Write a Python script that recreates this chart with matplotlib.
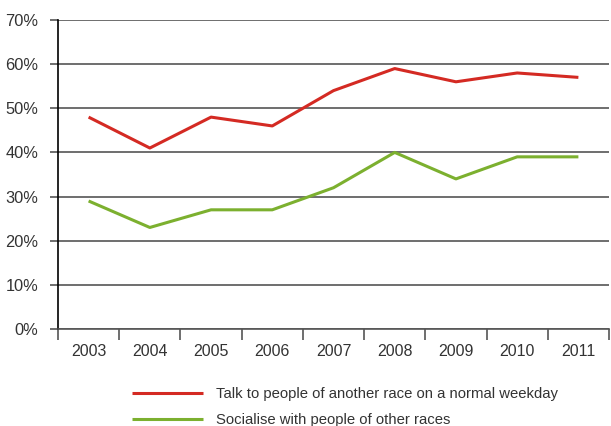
import numpy as np
import matplotlib.pyplot as plt

plt.rcParams['font.family'] = ['Liberation Sans', 'DejaVu Sans']

# Datos
years = ["2003", "2004", "2005", "2006", "2007", "2008", "2009", "2010", "2011"]
talk = [48, 41, 48, 46, 54, 59, 56, 58, 57]
socialise = [29, 23, 27, 27, 32, 40, 34, 39, 39]
label_talk = "Talk to people of another race on a normal weekday"
label_social = "Socialise with people of other races"

text_color = "#333333"
grid_color = "#555555"

fig = plt.figure(figsize=(6.11, 4.26), dpi=100)
ax = fig.add_axes([58 / 611, 1 - 329 / 426, 551 / 611, 309 / 426])

x = np.arange(len(years))
ax.plot(x, talk, color="#d42a23", lw=2.2, label=label_talk, solid_capstyle="butt", zorder=3)
ax.plot(x, socialise, color="#7cb02f", lw=2.2, label=label_social, solid_capstyle="butt", zorder=3)

ax.set_xlim(-0.5, len(years) - 0.5)
ax.set_ylim(0, 70)

# Rejilla horizontal
ax.set_yticks(np.arange(0, 71, 10))
ax.set_yticklabels([f"{v}%" for v in range(0, 71, 10)])
ax.grid(axis="y", color=grid_color, lw=1.2, zorder=1)
ax.tick_params(axis="y", length=6, width=1.2, color=grid_color, colors=text_color,
               labelsize=11.8, pad=8)

# Etiquetas de años centradas entre marcas
ax.set_xticks(x)
ax.set_xticklabels(years)
ax.set_xticks(np.arange(-0.5, len(years), 1), minor=True)
ax.tick_params(axis="x", which="major", length=0, pad=11, labelsize=11.5, colors=text_color)
ax.tick_params(axis="x", which="minor", length=8, width=1.2, color=grid_color)

for side in ["top", "right"]:
    ax.spines[side].set_visible(False)
ax.spines["bottom"].set_color(grid_color)
ax.spines["bottom"].set_linewidth(1.2)
ax.spines["left"].set_color("black")
ax.spines["left"].set_linewidth(1.2)
ax.spines["left"].set_bounds(0, 70)

leg = ax.legend(loc="upper left", bbox_to_anchor=(132 / 611, 1 - 387 / 426),
                bbox_transform=fig.transFigure, frameon=False, fontsize=10.7,
                handlelength=4.8, handletextpad=0.85, labelspacing=0.8,
                borderpad=0, borderaxespad=0)
for t in leg.get_texts():
    t.set_color(text_color)

plt.savefig("out.png", dpi=100)
